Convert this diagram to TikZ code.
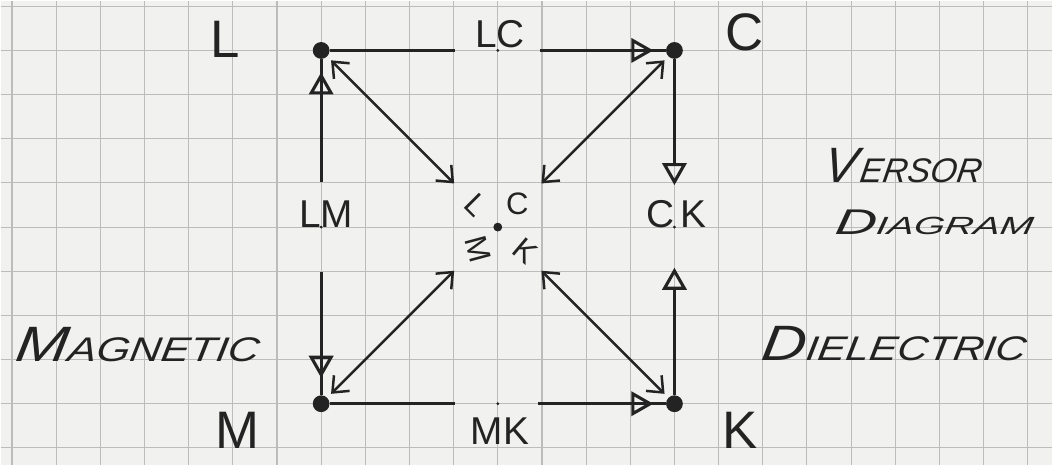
\documentclass[tikz,border=0pt]{standalone}
\usepackage{fontspec}
\setmainfont{Liberation Sans}
\usetikzlibrary{arrows.meta, decorations.markings}
\definecolor{paper}{RGB}{241, 241, 239}
\definecolor{gridgray}{RGB}{188, 188, 188}
\definecolor{ink}{RGB}{35, 35, 35}
\newcommand{\capsz}[1]{{\fontsize{32pt}{32pt}\selectfont #1}}
\newcommand{\restsz}[1]{{\fontsize{22pt}{22pt}\selectfont #1}}

\begin{document}
\begin{tikzpicture}[
    dot/.style={circle, fill=ink, inner sep=0pt, minimum size=0.38cm},
    ctrdot/.style={circle, fill=ink, inner sep=0pt, minimum size=0.2cm},
    tick/.style={circle, fill=ink, inner sep=0pt, minimum size=0.07cm},
    corner/.style={text=ink, font=\fontsize{34pt}{34pt}\selectfont},
    pair/.style={text=ink, font=\fontsize{25pt}{25pt}\selectfont},
    inner/.style={text=ink, font=\fontsize{20pt}{20pt}\selectfont},
    hand/.style={text=ink, font=\itshape, xslant=0.15, anchor=base, inner sep=1pt},
    side/.style={draw=ink, line width=2pt},
    head/.style={side, -{Triangle[open, length=0.5cm, width=0.55cm]}},
    midhead/.style={side, postaction={decorate}, decoration={markings,
        mark=at position #1 with {\arrow{Triangle[open, length=0.5cm, width=0.55cm]}}}},
    diag/.style={draw=ink, line width=1.6pt,
        {Straight Barb[length=0.3cm, width=0.5cm]}-{Straight Barb[length=0.3cm, width=0.5cm]},
        shorten <=1.29cm, shorten >=0.12cm}
  ]
    % squared paper
    \fill[paper] (-7.26,-1.38) rectangle (16.56,9.13);
    \draw[gridgray, line width=0.7pt] (-7.26,-1.38) grid (16.56,9.13);
    \useasboundingbox (-7.26,-1.38) rectangle (16.56,9.13);

    % the four versors and the centre
    \node[dot] (L) at (0,8) {};
    \node[dot] (C) at (8,8) {};
    \node[dot] (M) at (0,0) {};
    \node[dot] (K) at (8,0) {};
    \node[ctrdot] (ctr) at (4,4) {};

    % midpoints of the sides
    \node[tick] (lc) at (4,8) {};
    \node[tick] (mk) at (4,0) {};
    \node[tick] (lm) at (0,4) {};
    \node[tick] (ck) at (8,4) {};

    \coordinate (lcW) at (3.03,8);
    \coordinate (lcE) at (4.95,8);
    \coordinate (mkW) at (3.03,0);
    \coordinate (mkE) at (4.92,0);
    \coordinate (lmN) at (0,5.02);
    \coordinate (lmS) at (0,2.99);
    \coordinate (ckN) at (8,4.95);
    \coordinate (ckS) at (8,3.08);

    % sides
    \draw[side] (L) -- (lcW);
    \draw[midhead=-0.28cm] (lcE) -- (C);
    \draw[side] (M) -- (mkW);
    \draw[midhead=-0.28cm] (mkE) -- (K);
    \draw[midhead=-0.3cm] (lmN) -- (L);
    \draw[midhead=-0.39cm] (lmS) -- (M);
    \draw[head] (C) -- (ckN);
    \draw[head] (K) -- (ckS);

    % diagonals
    \draw[diag] (ctr) -- (L);
    \draw[diag] (ctr) -- (C);
    \draw[diag] (ctr) -- (M);
    \draw[diag] (ctr) -- (K);

    % labels
    \node[corner] (Ltext) at (-2.17,8.26) {L};
    \node[corner] (Ctext) at (9.59,8.42) {C};
    \node[corner] (Mtext) at (-1.9,-0.61) {M};
    \node[corner] (Ktext) at (9.48,-0.61) {K};

    \node[pair] (LCtext) at (4.05,8.37) {LC};
    \node[pair] (MKtext) at (4.05,-0.61) {MK};
    \node[pair] (LMtext) at (0.11,4.3) {LM};
    \node[pair] (CKtext) at (8.05,4.3) {C\,K};

    \node[inner, rotate=-45] (ctrL) at (3.52,4.51) {L};
    \node[inner] (ctrC) at (4.44,4.52) {C};
    \node[inner, rotate=-75] (ctrM) at (3.56,3.5) {M};
    \node[inner, rotate=-40] (ctrK) at (4.62,3.47) {K};

    \node[hand] (versor) at (13.14,5.0) {\capsz{V}\kern2pt\restsz{ERSOR}};
    \node[hand, xscale=1.6] (diagram) at (13.86,3.84)
        {{\fontsize{23pt}{23pt}\selectfont D}{\fontsize{16pt}{16pt}\selectfont IAGRAM}};
    \node[hand, xscale=1.23] (dielectric) at (12.94,0.97) {\capsz{D}\restsz{IELECTRIC}};
    \node[hand, xscale=1.26] (magnetic) at (-4.19,0.95) {\capsz{M}\restsz{AGNETIC}};
  \end{tikzpicture}
\end{document}
